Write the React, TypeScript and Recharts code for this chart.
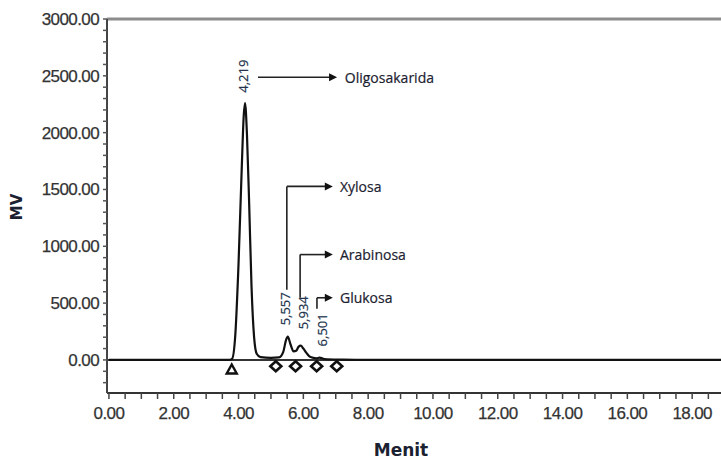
import {
  ComposedChart,
  Line,
  Scatter,
  XAxis,
  YAxis,
  ReferenceLine,
  ReferenceDot,
} from 'recharts';

// retention time (menit) and detector signal (mV)
const times = [
  0, 3.7, 3.8, 3.9, 4.0, 4.1, 4.16, 4.2, 4.26, 4.33, 4.4, 4.48, 4.56, 4.68,
  5.0, 5.25, 5.38, 5.46, 5.52, 5.6, 5.7, 5.78, 5.85, 5.92, 6.0, 6.1, 6.22,
  6.4, 6.5, 6.65, 7.2, 8.0, 19,
];
const signal = [
  0, 0, 10, 220, 850, 1700, 2150, 2260, 1980, 1350, 650, 200, 55, 25,
  18, 22, 70, 170, 205, 140, 75, 80, 115, 125, 100, 60, 25,
  15, 20, 8, 3, 0, 0,
];

// integration markers under the baseline
const startMarkerTimes = [3.79];
const startMarkerValues = [-80];
const endMarkerTimes = [5.15, 5.76, 6.41, 7.03];
const endMarkerValues = [-55, -55, -55, -55];

const peakLabels = ['4,219', '5,557', '5,934', '6,501'];
const compounds = ['Oligosakarida', 'Xylosa', 'Arabinosa', 'Glukosa'];

const xTickLabels = [0, 2, 4, 6, 8, 10, 12, 14, 16, 18];
const yTickLabels = [0, 500, 1000, 1500, 2000, 2500, 3000];

const chartData = times.map((t, i) => ({ t, mv: signal[i] }));
const startMarkers = startMarkerTimes.map((t, i) => ({ t, mv: startMarkerValues[i] }));
const endMarkers = endMarkerTimes.map((t, i) => ({ t, mv: endMarkerValues[i] }));

// minor ticks: 4 per major x interval, 5 per major y interval
const xTicks: number[] = [];
for (let v = 0; v <= 18.5; v += 0.5) xTicks.push(v);
const yTicks: number[] = [];
for (let v = -200; v <= 3000; v += 100) yTicks.push(v);

// where the texts and pointers sit, in data units
const peakLabelPos = [
  { x: 4.14, y: 2497 },
  { x: 5.43, y: 450 },
  { x: 5.99, y: 415 },
  { x: 6.57, y: 265 },
];
const pointers = [
  { x0: 4.6, stemTop: 2488, stemBottom: 2488, y: 2488, tip: 7.04, textX: 7.28 },
  { x0: 5.49, stemTop: 1527, stemBottom: 618, y: 1527, tip: 6.91, textX: 7.13 },
  { x0: 5.9, stemTop: 927, stemBottom: 547, y: 927, tip: 6.91, textX: 7.13 },
  { x0: 6.42, stemTop: 547, stemBottom: 450, y: 547, tip: 6.91, textX: 7.13 },
];

const INK = '#1b2130';

const XTick = (props: any) => {
  const { x, y, payload } = props;
  if (!xTickLabels.includes(payload.value)) return <g />;
  return (
    <text x={x} y={y} dy="0.71em" textAnchor="middle" fontSize={17} fill="#333"
      stroke="#333" strokeWidth={0.25}
      fontFamily="'Liberation Sans', Arial, sans-serif" letterSpacing={-0.6}>
      {payload.value.toFixed(2)}
    </text>
  );
};

const YTick = (props: any) => {
  const { x, y, payload } = props;
  if (!yTickLabels.includes(payload.value)) return <g />;
  return (
    <text x={x} y={y} dy="0.355em" textAnchor="end" fontSize={17} fill="#333"
      stroke="#333" strokeWidth={0.25}
      fontFamily="'Liberation Sans', Arial, sans-serif" letterSpacing={-0.6}>
      {payload.value.toFixed(2)}
    </text>
  );
};

const MvLabel = (props: any) => {
  const { viewBox } = props;
  const cx = viewBox.x + 17;
  const cy = viewBox.y + viewBox.height / 2 + 1;
  return (
    <text x={cx} y={cy} transform={`rotate(-90 ${cx} ${cy})`} textAnchor="middle"
      dominantBaseline="central" fontSize={15} fontWeight="bold" fill={INK}
      fontFamily="'DejaVu Sans', sans-serif">
      MV
    </text>
  );
};

const MenitLabel = (props: any) => {
  const { viewBox } = props;
  return (
    <text x={viewBox.x + viewBox.width / 2 - 13} y={viewBox.y + 63} textAnchor="middle"
      fontSize={17} fontWeight="bold" fill={INK} fontFamily="'DejaVu Sans', sans-serif">
      Menit
    </text>
  );
};

const Triangle = (props: any) => {
  const { cx, cy } = props;
  return (
    <polygon points={`${cx},${cy - 4.5} ${cx + 5},${cy + 4.5} ${cx - 5},${cy + 4.5}`}
      fill="#fff" stroke="#111" strokeWidth={2.4} />
  );
};

const Diamond = (props: any) => {
  const { cx, cy } = props;
  return (
    <polygon points={`${cx},${cy - 5} ${cx + 5.5},${cy} ${cx},${cy + 5} ${cx - 5.5},${cy}`}
      fill="#fff" stroke="#111" strokeWidth={2.6} />
  );
};

const ArrowLine = (props: any) => {
  const { x1, y1, x2, y2 } = props;
  return (
    <g>
      <line x1={x1} y1={y1} x2={x2 - 6} y2={y2} stroke="#222" strokeWidth={1.6} />
      <polygon points={`${x2},${y2} ${x2 - 8},${y2 - 4} ${x2 - 8},${y2 + 4}`} fill="#111" />
    </g>
  );
};

export default function App() {
  return (
    <div style={{ position: 'absolute', left: 0, top: 0 }}>
      <ComposedChart
        width={721}
        height={459}
        data={chartData}
        margin={{ top: 19, right: 0, bottom: 0, left: 0 }}
        style={{ background: '#fff' }}
      >
        <XAxis
          dataKey="t"
          type="number"
          domain={[-0.06, 18.89]}
          allowDataOverflow
          ticks={xTicks}
          interval={0}
          tick={XTick}
          tickSize={6}
          tickMargin={8}
          height={66}
          stroke="#333"
          axisLine={{ stroke: '#333', strokeWidth: 2 }}
          tickLine={{ stroke: '#444', strokeWidth: 1.5 }}
          label={<MenitLabel />}
        />
        <YAxis
          dataKey="mv"
          type="number"
          domain={[-291, 3000]}
          allowDataOverflow
          ticks={yTicks}
          interval={0}
          tick={YTick}
          tickSize={4}
          tickMargin={4}
          width={107}
          axisLine={{ stroke: '#444', strokeWidth: 2 }}
          tickLine={{ stroke: '#555', strokeWidth: 1.5 }}
          label={<MvLabel />}
        />
        <ReferenceLine y={3000} stroke="#8c8c8c" strokeWidth={3} />
        <ReferenceLine y={0} stroke="#333" strokeWidth={2} />
        <Line
          type="monotone"
          dataKey="mv"
          stroke="#111"
          strokeWidth={2.2}
          dot={false}
          activeDot={false}
          isAnimationActive={false}
        />
        <Scatter data={startMarkers} dataKey="mv" shape={Triangle} isAnimationActive={false} />
        <Scatter data={endMarkers} dataKey="mv" shape={Diamond} isAnimationActive={false} />

        {pointers.map((p, i) => (
          <ReferenceLine
            key={`stem-${i}`}
            segment={[{ x: p.x0, y: p.stemTop }, { x: p.x0, y: p.stemBottom }]}
            stroke="#222"
            strokeWidth={1.6}
          />
        ))}
        {pointers.map((p, i) => (
          <ReferenceLine
            key={`arrow-${i}`}
            segment={[{ x: p.x0, y: p.y }, { x: p.tip, y: p.y }]}
            shape={ArrowLine}
          />
        ))}
        {pointers.map((p, i) => (
          <ReferenceDot
            key={`name-${i}`}
            x={p.textX}
            y={p.y}
            r={0}
            shape={(s: any) => (
              <text x={s.cx} y={s.cy} dominantBaseline="central" fontSize={14} fill={INK}
                stroke={INK} strokeWidth={0.2} fontFamily="'Open Sans', sans-serif">
                {compounds[i]}
              </text>
            )}
          />
        ))}
        {peakLabelPos.map((p, i) => (
          <ReferenceDot
            key={`peak-${i}`}
            x={p.x}
            y={p.y}
            r={0}
            shape={(s: any) => (
              <text x={s.cx} y={s.cy} transform={`rotate(-90 ${s.cx} ${s.cy})`}
                textAnchor="middle" dominantBaseline="central" fontSize={13} fill="#22324c"
                stroke="#22324c" strokeWidth={0.2} fontFamily="'Open Sans', sans-serif">
                {peakLabels[i]}
              </text>
            )}
          />
        ))}
      </ComposedChart>
    </div>
  );
}
